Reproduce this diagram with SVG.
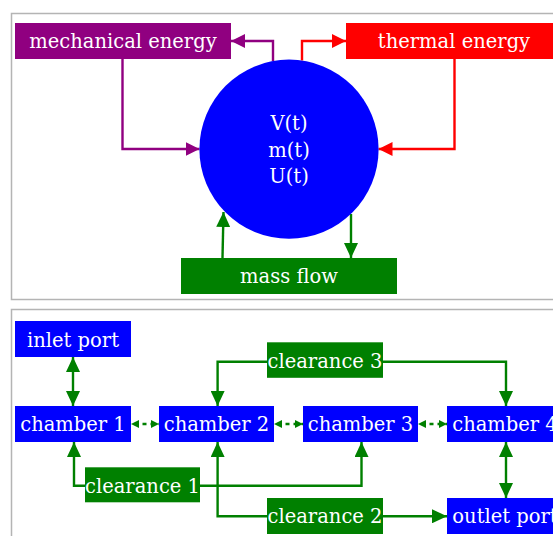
<svg xmlns="http://www.w3.org/2000/svg" width="553" height="536" viewBox="0 0 553 536">
<style>
  .panel { fill: none; stroke: #b4b4b4; stroke-width: 1.5; }
  .lbl { font-family: "DejaVu Serif", "Liberation Serif", serif; font-size: 19.5px; fill: #ffffff; text-anchor: middle; }
  .c { fill: none; stroke-width: 2.4; }
  .pu { stroke: #900080; }
  .rd { stroke: #ff0000; }
  .gr { stroke: #008000; }
  .dash { stroke-dasharray: 4 4; stroke-dashoffset: 4.5; }
</style>
<defs>
  <marker id="aPu" markerUnits="userSpaceOnUse" markerWidth="14" markerHeight="14" refX="14" refY="7" orient="auto-start-reverse" viewBox="0 0 14 14"><path d="M0,0 L14,7 L0,14 z" fill="#900080"/></marker>
  <marker id="aRd" markerUnits="userSpaceOnUse" markerWidth="14" markerHeight="14" refX="14" refY="7" orient="auto-start-reverse" viewBox="0 0 14 14"><path d="M0,0 L14,7 L0,14 z" fill="#ff0000"/></marker>
  <marker id="aGr" markerUnits="userSpaceOnUse" markerWidth="15" markerHeight="14" refX="15" refY="7" orient="auto-start-reverse" viewBox="0 0 15 14"><path d="M0,0 L15,7 L0,14 z" fill="#008000"/></marker>
  <marker id="aGs" markerUnits="userSpaceOnUse" markerWidth="8" markerHeight="8" refX="8" refY="4" orient="auto-start-reverse" viewBox="0 0 8 8"><path d="M0,0 L8,4 L0,8 z" fill="#008000"/></marker>
</defs>

<rect class="panel" x="11.5" y="13.5" width="560" height="286"/>
<rect class="panel" x="11.5" y="309.5" width="560" height="240"/>

<g id="connectors">
  <path class="c pu" d="M273,61 V41 H231" marker-end="url(#aPu)"/>
  <path class="c rd" d="M302,60.5 V41 H346" marker-end="url(#aRd)"/>
  <path class="c pu" d="M122.5,59 V149 H199.5" marker-end="url(#aPu)"/>
  <path class="c rd" d="M454.5,59 V149 H378.5" marker-end="url(#aRd)"/>
  <path class="c gr" d="M222.5,258 L223.5,212" marker-end="url(#aGr)"/>
  <path class="c gr" d="M351,214 V258" marker-end="url(#aGr)"/>

  <path class="c gr" d="M73,357 V406" marker-start="url(#aGr)" marker-end="url(#aGr)"/>
  <path class="c gr dash" d="M131,424 H159" marker-start="url(#aGs)" marker-end="url(#aGs)"/>
  <path class="c gr dash" d="M274,424 H303" marker-start="url(#aGs)" marker-end="url(#aGs)"/>
  <path class="c gr dash" d="M418,424 H447" marker-start="url(#aGs)" marker-end="url(#aGs)"/>
  <path class="c gr" d="M267,361.7 H217.6 V406" marker-end="url(#aGr)"/>
  <path class="c gr" d="M383,361.7 H506 V406" marker-end="url(#aGr)"/>
  <path class="c gr" d="M85,485.7 H74 V442" marker-end="url(#aGr)"/>
  <path class="c gr" d="M200,485.7 H361.5 V442" marker-end="url(#aGr)"/>
  <path class="c gr" d="M267,516.3 H217.6 V442" marker-end="url(#aGr)"/>
  <path class="c gr" d="M383,516.3 H447" marker-end="url(#aGr)"/>
  <path class="c gr" d="M506,442 V498" marker-start="url(#aGr)" marker-end="url(#aGr)"/>
</g>

<g id="mechanical">
  <rect x="15" y="23" width="216" height="36" fill="#900080"/>
  <text class="lbl" x="123" y="48">mechanical energy</text>
</g>
<g id="thermal">
  <rect x="346" y="23" width="216" height="36" fill="#ff0000"/>
  <text class="lbl" x="454" y="48">thermal energy</text>
</g>
<g id="volume">
  <circle cx="289" cy="149.2" r="89.6" fill="#0000ff"/>
  <text class="lbl" x="289" y="130">V(t)</text>
  <text class="lbl" x="289" y="156.7">m(t)</text>
  <text class="lbl" x="289" y="183.4">U(t)</text>
</g>
<g id="massflow">
  <rect x="181" y="258" width="216" height="36" fill="#008000"/>
  <text class="lbl" x="289" y="283">mass flow</text>
</g>

<g id="inlet">
  <rect x="15" y="321" width="116" height="36" fill="#0000ff"/>
  <text class="lbl" x="73" y="346.5">inlet port</text>
</g>
<g id="chamber1">
  <rect x="15" y="406" width="116" height="36" fill="#0000ff"/>
  <text class="lbl" x="73" y="431">chamber 1</text>
</g>
<g id="chamber2">
  <rect x="159" y="406" width="115" height="36" fill="#0000ff"/>
  <text class="lbl" x="216.5" y="431">chamber 2</text>
</g>
<g id="chamber3">
  <rect x="303" y="406" width="115" height="36" fill="#0000ff"/>
  <text class="lbl" x="360.5" y="431">chamber 3</text>
</g>
<g id="chamber4">
  <rect x="447" y="406" width="116" height="36" fill="#0000ff"/>
  <text class="lbl" x="505" y="431">chamber 4</text>
</g>
<g id="clearance3">
  <rect x="267" y="342.3" width="116" height="35.5" fill="#008000"/>
  <text class="lbl" x="325" y="367.5">clearance 3</text>
</g>
<g id="clearance1">
  <rect x="85" y="467.3" width="115" height="35" fill="#008000"/>
  <text class="lbl" x="142.5" y="492.5">clearance 1</text>
</g>
<g id="clearance2">
  <rect x="267" y="498" width="116" height="36" fill="#008000"/>
  <text class="lbl" x="325" y="523">clearance 2</text>
</g>
<g id="outlet">
  <rect x="447" y="498" width="116" height="36" fill="#0000ff"/>
  <text class="lbl" x="505" y="523">outlet port</text>
</g>
</svg>
